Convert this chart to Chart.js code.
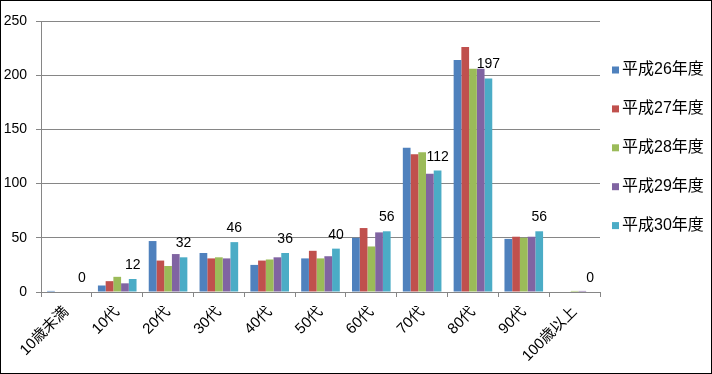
<!DOCTYPE html>
<html><head><meta charset="utf-8">
<script src="https://cdn.jsdelivr.net/npm/chart.js@4/dist/chart.umd.min.js"></script>
<style>
html,body{margin:0;padding:0;background:#fff;}
#wrap{position:relative;width:712px;height:374px;box-sizing:border-box;border:1px solid #000;background:#fff;}
canvas{display:block;}
</style></head><body>
<div id="wrap"><canvas id="c" width="710" height="372"></canvas></div>
<script>
const categories = ["10歳未満","10代","20代","30代","40代","50代","60代","70代","80代","90代","100歳以上"];
const seriesNames = ["平成26年度","平成27年度","平成28年度","平成29年度","平成30年度"];
const h26 = [1, 6, 47, 36, 25, 31, 50, 133, 214, 49, 0];
const h27 = [0, 10, 29, 31, 29, 38, 59, 127, 226, 51, 0];
const h28 = [0, 14, 24, 32, 30, 31, 42, 129, 206, 50, 1];
const h29 = [0, 8, 35, 31, 32, 33, 55, 109, 206, 51, 1];
const h30 = [0, 12, 32, 46, 36, 40, 56, 112, 197, 56, 0];
const yTicks = [0, 50, 100, 150, 200, 250];
const colors = ["#4F81BD", "#C0504D", "#9BBB59", "#8064A2", "#4BACC6"];
const seriesValues = [h26, h27, h28, h29, h30];

const FONT = '"Liberation Sans","Noto Sans CJK JP",sans-serif';
const GRID = "#868686";

const labelPlugin = {
  id: "lastSeriesLabels",
  afterDatasetsDraw(chart) {
    const ctx = chart.ctx;
    const idx = chart.data.datasets.length - 1;
    const meta = chart.getDatasetMeta(idx);
    ctx.save();
    ctx.font = "14px " + FONT;
    ctx.fillStyle = "#000";
    ctx.textAlign = "center";
    ctx.textBaseline = "alphabetic";
    meta.data.forEach((bar, i) => {
      ctx.fillText(String(chart.data.datasets[idx].data[i]), bar.x, bar.y - 10);
    });
    ctx.restore();
  }
};

const legendPlugin = {
  id: "sideLegend",
  afterDraw(chart) {
    const ctx = chart.ctx;
    const ca = chart.chartArea;
    ctx.save();
    ctx.font = "16px " + FONT;
    ctx.textBaseline = "middle";
    ctx.textAlign = "left";
    chart.data.datasets.forEach((ds, i) => {
      const cy = 69 + i * 38.9;
      const x = ca.right + 12;
      ctx.fillStyle = ds.backgroundColor;
      ctx.fillRect(x, cy - 3.5, 7, 7);
      ctx.fillStyle = "#000";
      ctx.fillText(ds.label, x + 10, cy);
    });
    ctx.restore();
  }
};

new Chart(document.getElementById("c"), {
  type: "bar",
  data: {
    labels: categories,
    datasets: seriesNames.map((n, i) => ({
      label: n,
      data: seriesValues[i],
      backgroundColor: colors[i],
      borderWidth: 0,
      categoryPercentage: 0.76,
      barPercentage: 1.0
    }))
  },
  options: {
    responsive: false,
    animation: false,
    devicePixelRatio: 1,
    layout: { padding: { top: 20, right: 111, bottom: 0, left: 0 } },
    plugins: { legend: { display: false }, tooltip: { enabled: false } },
    scales: {
      x: {
        offset: true,
        grid: { display: true, offset: true, drawOnChartArea: false, drawTicks: true, tickLength: 5, color: GRID, lineWidth: 1 },
        border: { display: true, color: GRID, width: 1 },
        ticks: { minRotation: 45, maxRotation: 45, autoSkip: false, padding: 6, color: "#000", font: { size: 15, family: FONT } },
        afterFit(s) { s.height = 81; }
      },
      y: {
        min: 0, max: 250,
        afterBuildTicks(s) { s.ticks = yTicks.map(v => ({ value: v })); },
        grid: { color: GRID, lineWidth: 1, drawTicks: true, tickLength: 5 },
        border: { display: true, color: GRID, width: 1 },
        ticks: { padding: 9, color: "#000", font: { size: 14, family: FONT } },
        afterFit(s) { s.width = 40; }
      }
    }
  },
  plugins: [labelPlugin, legendPlugin]
});
</script>
</body></html>
